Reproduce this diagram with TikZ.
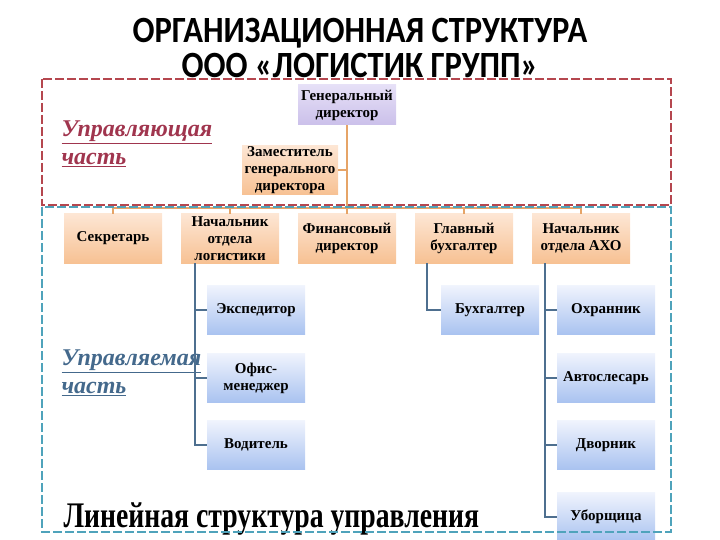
\documentclass[tikz,border=0pt]{standalone}
\usepackage{fontspec}
\setmainfont{Liberation Serif}
\newfontfamily\titlefont{Carlito}
\definecolor{peachtop}{HTML}{FDE6D4}
\definecolor{peachbot}{HTML}{F7C193}
\definecolor{skytop}{HTML}{F0F4FD}
\definecolor{skybot}{HTML}{A9C2F0}
\definecolor{lilactop}{HTML}{E6E0F7}
\definecolor{lilacbot}{HTML}{CBC0EA}
\definecolor{orangeln}{HTML}{E6A467}
\definecolor{blueln}{HTML}{4E6F8F}
\definecolor{redframe}{HTML}{B5474F}
\definecolor{tealframe}{HTML}{4FA3BB}
\definecolor{upred}{HTML}{A0354E}
\definecolor{upblue}{HTML}{44698C}
\newcommand{\boxfont}{\bfseries\fontsize{15}{17}\selectfont}
\newcommand{\ulpart}[1]{\leavevmode\vtop{\hbox{#1}\kern1.2pt\hrule height 1.6pt}}

\begin{document}
\begin{tikzpicture}[x=1pt, y=-1pt,
  box/.style={minimum width=98pt, minimum height=49pt, inner sep=1pt,
    align=center, font=\boxfont},
  peachbox/.style={box, top color=peachtop, bottom color=peachbot},
  skybox/.style={box, top color=skytop, bottom color=skybot},
  lilacbox/.style={box, minimum height=40pt, top color=lilactop, bottom color=lilacbot},
  orangeline/.style={draw=orangeln, line width=1.4pt},
  blueline/.style={draw=blueln, line width=1.8pt},
  frame/.style={line width=2.6pt, dash pattern=on 9pt off 3pt},
  partlabel/.style={anchor=north west, align=left,
    font=\bfseries\itshape\fontsize{24}{28}\selectfont},
  titleline/.style={anchor=base, font=\titlefont\bfseries\fontsize{37}{37}\selectfont}]
  \useasboundingbox (0,0) rectangle (720,540);

  % title
  \node[titleline] (title1) at (360,43) {\scalebox{0.88}[1]{ОРГАНИЗАЦИОННАЯ СТРУКТУРА}};
  \node[titleline] (title2) at (360,78) {\scalebox{0.88}[1]{ООО «ЛОГИСТИК ГРУПП»}};

  \node[partlabel, text=upred] (upr) at (58,117)
    {\ulpart{Управляющая}\\\ulpart{часть}};
  \node[partlabel, text=upblue] (upm) at (58,346)
    {\ulpart{Управляемая}\\\ulpart{часть}};

  % top management
  \node[lilacbox] (gen) at (347,105) {Генеральный\\директор};
  \node[peachbox, minimum width=96pt] (zam) at (290,170)
    {Заместитель\\генерального\\директора};
  \coordinate (bus) at (347,208);
  \draw[orangeline] (gen.south) -- (bus);
  \draw[orangeline] (zam.east) -- (zam.east -| gen.south);

  % heads of departments
  \foreach \name/\cx/\txt in {sec/113/{Секретарь},
      log/230/{Начальник\\отдела\\логистики},
      fin/347/{Финансовый\\директор},
      buh/464/{Главный\\бухгалтер},
      axo/581/{Начальник\\отдела АХО}} {
    \node[peachbox] (\name) at (\cx,238.5) {\txt};
    \draw[orangeline] (\name.north) -- (\name.north |- bus);
  }
  \draw[orangeline] (sec.north |- bus) -- (axo.north |- bus);

  % staff
  \node[skybox] (exp) at (256,310) {Экспедитор};
  \node[skybox] (ofm) at (256,378) {Офис-\\менеджер};
  \node[skybox] (vod) at (256,445) {Водитель};
  \node[skybox] (bkh) at (490,310) {Бухгалтер};
  \node[skybox] (ohr) at (606,310) {Охранник};
  \node[skybox] (avt) at (606,378) {Автослесарь};
  \node[skybox] (dvo) at (606,445) {Дворник};
  \node[skybox] (ubo) at (606,517) {Уборщица};

  \draw[blueline] ([xshift=14pt]log.south west) |- (vod.west);
  \foreach \n in {exp, ofm}
    \draw[blueline] ([xshift=14pt]log.south west |- \n.west) -- (\n.west);
  \draw[blueline] ([xshift=12pt]buh.south west) |- (bkh.west);
  \draw[blueline] ([xshift=13pt]axo.south west) |- (ubo.west);
  \foreach \n in {ohr, avt, dvo}
    \draw[blueline] ([xshift=13pt]axo.south west |- \n.west) -- (\n.west);

  \node[anchor=base west, font=\bfseries\fontsize{36}{36}\selectfont] (lin) at (60,527)
    {\scalebox{0.77}[1]{Линейная структура управления}};

  % frames of the two parts
  \draw[redframe, frame] (42,79) rectangle (671,205);
  \draw[tealframe, frame] (42,207) rectangle (671,532);
\end{tikzpicture}
\end{document}
